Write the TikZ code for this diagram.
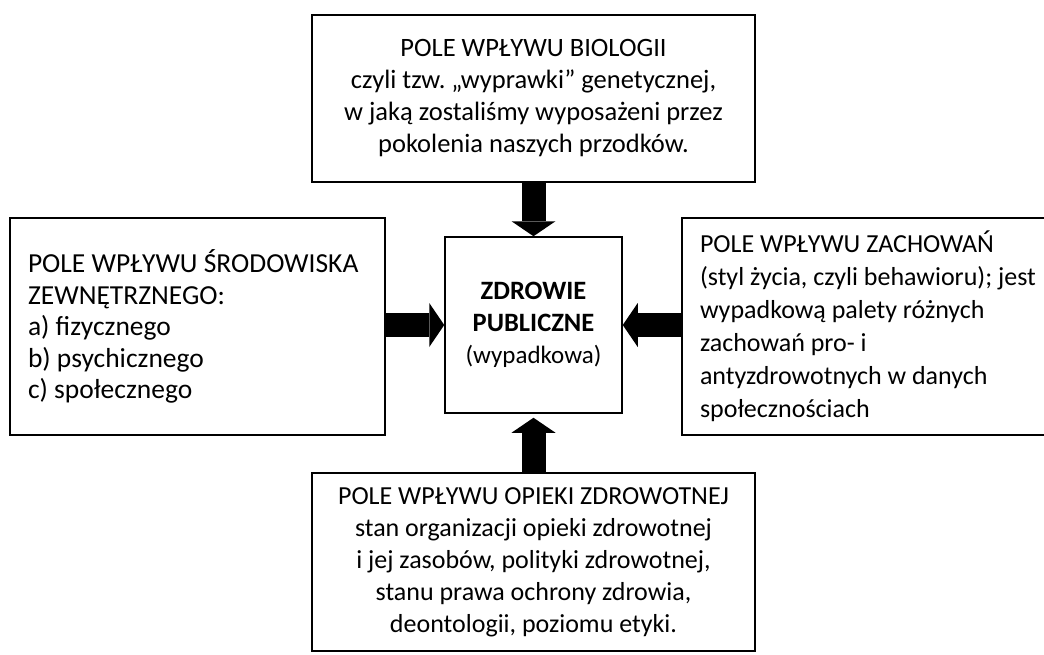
\documentclass[tikz,border=0pt]{standalone}
\usepackage{fontspec}
\setmainfont{Carlito}
\frenchspacing
\usetikzlibrary{arrows.meta}

\begin{document}
\begin{tikzpicture}[x=1pt, y=-1pt,
 pole/.style={shape=rectangle, draw, line width=1.5pt, inner xsep=18pt, inner ysep=0pt,
   font=\fontsize{26.5}{32}\selectfont},
 wplyw/.style={line width=24pt, -{Triangle[length=15pt, width=44pt, line width=0pt]}},
]
\useasboundingbox (0,0) rectangle (1044,654);

%centre
\node (zdrowie) at (533.5,325) [pole, align=center, minimum width=177pt, minimum height=176pt]
 {\textbf{ZDROWIE}\\ \textbf{PUBLICZNE}\\ {\fontsize{25}{32}\selectfont (wypadkowa)}};

%top
\node (bio) at (533.5,98.5) [pole, align=flush center, text width=407pt, minimum height=167pt]
 {POLE WPŁYWU BIOLOGII\\ czyli tzw. „wyprawki” genetycznej,\\
  w jaką zostaliśmy wyposażeni przez\\ pokolenia naszych przodków.\par\vspace{29pt}};

%left
\node (env) at (197.5,326.5) [pole, align=flush left, text width=339pt, minimum height=217pt,
   font=\fontsize{27.5}{31.5}\selectfont]
 {POLE WPŁYWU ŚRODOWISKA\\ ZEWNĘTRZNEGO:\\ a) fizycznego\\ b) psychicznego\\ c) społecznego};

%right
\node (zach) at (869.5,326.5) [pole, align=flush left, text width=339pt, minimum height=217pt,
   font=\fontsize{26}{33}\selectfont]
 {POLE WPŁYWU ZACHOWAŃ\\ (styl życia, czyli behawioru); jest\\ wypadkową palety różnych\\
  zachowań pro- i\\ antyzdrowotnych w danych\\ społecznościach};

%bottom
\node (opieka) at (533.5,562) [pole, align=center, minimum width=443pt, minimum height=178pt,
   font=\fontsize{26}{32}\selectfont]
 {POLE WPŁYWU OPIEKI ZDROWOTNEJ\\ stan organizacji opieki zdrowotnej\\
  i jej zasobów, polityki zdrowotnej,\\ stanu prawa ochrony zdrowia,\\ deontologii, poziomu etyki.};

%arrows
\draw[wplyw] (bio.south) -- (zdrowie.north);
\draw[wplyw] (env.east |- zdrowie.west) -- (zdrowie.west);
\draw[wplyw] (zach.west |- zdrowie.east) -- (zdrowie.east);
\draw[wplyw, shorten >=4pt] (opieka.north) -- (zdrowie.south);

\end{tikzpicture}
\end{document}
